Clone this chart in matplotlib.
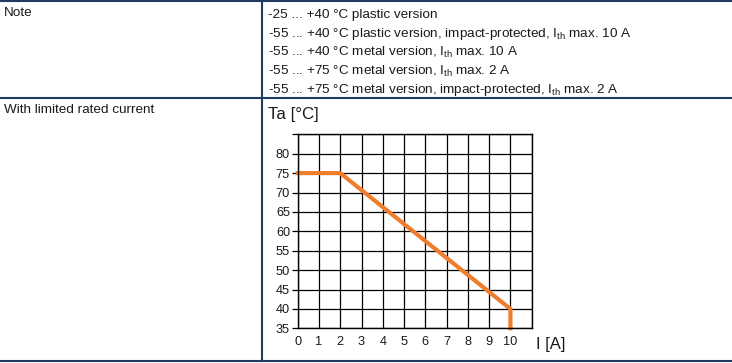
import matplotlib
matplotlib.use('Agg')
import matplotlib.pyplot as plt

plt.rcParams['font.family'] = ['Liberation Sans', 'DejaVu Sans']
plt.rcParams['mathtext.fontset'] = 'custom'
plt.rcParams['mathtext.rm'] = 'Liberation Sans'

# data
current = [0, 2, 10, 10]
temp = [75, 75, 40, 35]
x_ticks = list(range(0, 11))
y_ticks = list(range(35, 85, 5))

notes = [
    '-25 ... +40 °C plastic version',
    '-55 ... +40 °C plastic version, impact-protected, I$_{\\mathregular{th}}$ max. 10 A',
    '-55 ... +40 °C metal version, I$_{\\mathregular{th}}$ max. 10 A',
    '-55 ... +75 °C metal version, I$_{\\mathregular{th}}$ max. 2 A',
    '-55 ... +75 °C metal version, impact-protected, I$_{\\mathregular{th}}$ max. 2 A',
]

W, H = 732, 363
fig = plt.figure(figsize=(W / 100, H / 100), dpi=100)

# table layer in pixel coords
bg = fig.add_axes([0, 0, 1, 1])
bg.set_xlim(0, W)
bg.set_ylim(H, 0)
bg.axis('off')
navy = '#1f3a5f'
for yy in [1, 98, 360.5]:
    bg.plot([0, W], [yy, yy], color=navy, lw=1.5, solid_capstyle='butt')
bg.plot([262, 262], [1, 360.5], color=navy, lw=1.5)

fs = 9.7
txt = '#1a1a1a'
bg.text(4, 13, 'Note', fontsize=fs, va='center', ha='left', color=txt)
for i, s in enumerate(notes):
    bg.text(268, 15 + i * 18.7, s, fontsize=fs, va='center', ha='left', color=txt)
bg.text(4, 110, 'With limited rated current', fontsize=fs, va='center', ha='left', color=txt)
bg.text(268, 115, 'Ta [°C]', fontsize=12.2, va='center', ha='left', color=txt)
bg.text(536, 345, 'I [A]', fontsize=12, va='center', ha='left', color=txt)

# chart
ax = fig.add_axes([297.7 / W, 1 - 328.3 / H, 234 / W, 194 / H])
ax.set_xlim(0, 11)
ax.set_ylim(35, 85)
ax.set_xticks(list(range(0, 12)))
ax.set_yticks(list(range(35, 90, 5)))
ax.set_xticklabels([str(v) for v in x_ticks] + [''], fontsize=9.2)
ax.set_yticklabels([str(v) for v in y_ticks] + [''], fontsize=9.2)
ax.tick_params(axis='x', length=0, pad=5.5, colors=txt)
ax.tick_params(axis='y', length=4, width=0.9, pad=1.5, colors=txt)
ax.tick_params(axis='y', color='black')
ax.grid(True, color='black', lw=0.9)
for sp in ax.spines.values():
    sp.set_linewidth(1.0)
ax.plot(current, temp, color='#ee7d2e', lw=3, solid_joinstyle='miter', clip_on=False)
ax.set_axisbelow(True)

fig.savefig('out.png', dpi=100, facecolor='white')
